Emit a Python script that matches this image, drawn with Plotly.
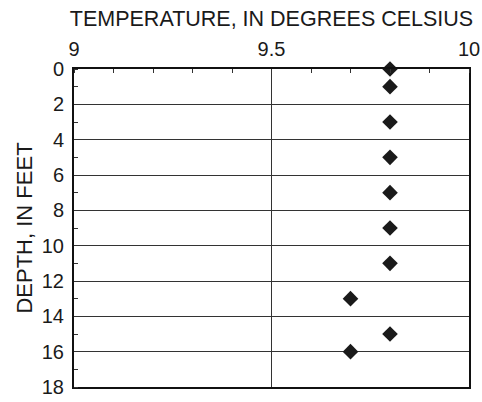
import plotly.graph_objects as go

depth_ft = [0, 1, 3, 5, 7, 9, 11, 13, 15, 16]
temperature_c = [9.8, 9.8, 9.8, 9.8, 9.8, 9.8, 9.8, 9.7, 9.8, 9.7]
x_tick_vals = [9, 9.5, 10]
x_tick_text = ["9", "9.5", "10"]
y_tick_vals = [0, 2, 4, 6, 8, 10, 12, 14, 16, 18]

fig = go.Figure()
fig.add_trace(go.Scatter(
    x=temperature_c, y=depth_ft, mode="markers",
    marker=dict(symbol="diamond", size=12, color="#1a1a1a"),
    cliponaxis=False, showlegend=False,
))

font = dict(family="Liberation Sans, Arial, sans-serif", size=20, color="#1a1a1a")
fig.update_layout(
    width=482, height=402,
    margin=dict(l=74, r=13, t=69, b=15),
    paper_bgcolor="white", plot_bgcolor="white",
    font=font,
    xaxis=dict(
        side="top", range=[9, 10], tickvals=x_tick_vals, ticktext=x_tick_text,
        showgrid=True, gridcolor="#333333", gridwidth=1,
        showline=True, linecolor="#111111", linewidth=2, mirror=True,
        ticks="", zeroline=False, automargin=False,
        minor=dict(dtick=0.1, tick0=9, ticks="inside", ticklen=4, tickcolor="#333333", showgrid=False),
        title=dict(text="TEMPERATURE, IN DEGREES CELSIUS", font=dict(size=21.5), standoff=5),
        tickfont=dict(size=20),
        ticklabelstandoff=3,
    ),
    yaxis=dict(
        range=[18, 0], tickvals=y_tick_vals,
        showgrid=True, gridcolor="#333333", gridwidth=1,
        showline=True, linecolor="#111111", linewidth=2, mirror=True,
        ticks="", zeroline=False, automargin=False,
        minor=dict(dtick=1, tick0=0, ticks="inside", ticklen=4, tickcolor="#333333", showgrid=False),
        title=dict(text="DEPTH, IN FEET", font=dict(size=22), standoff=3),
        tickfont=dict(size=20),
        ticklabelstandoff=4,
    ),
)

fig.write_html("out.html")
